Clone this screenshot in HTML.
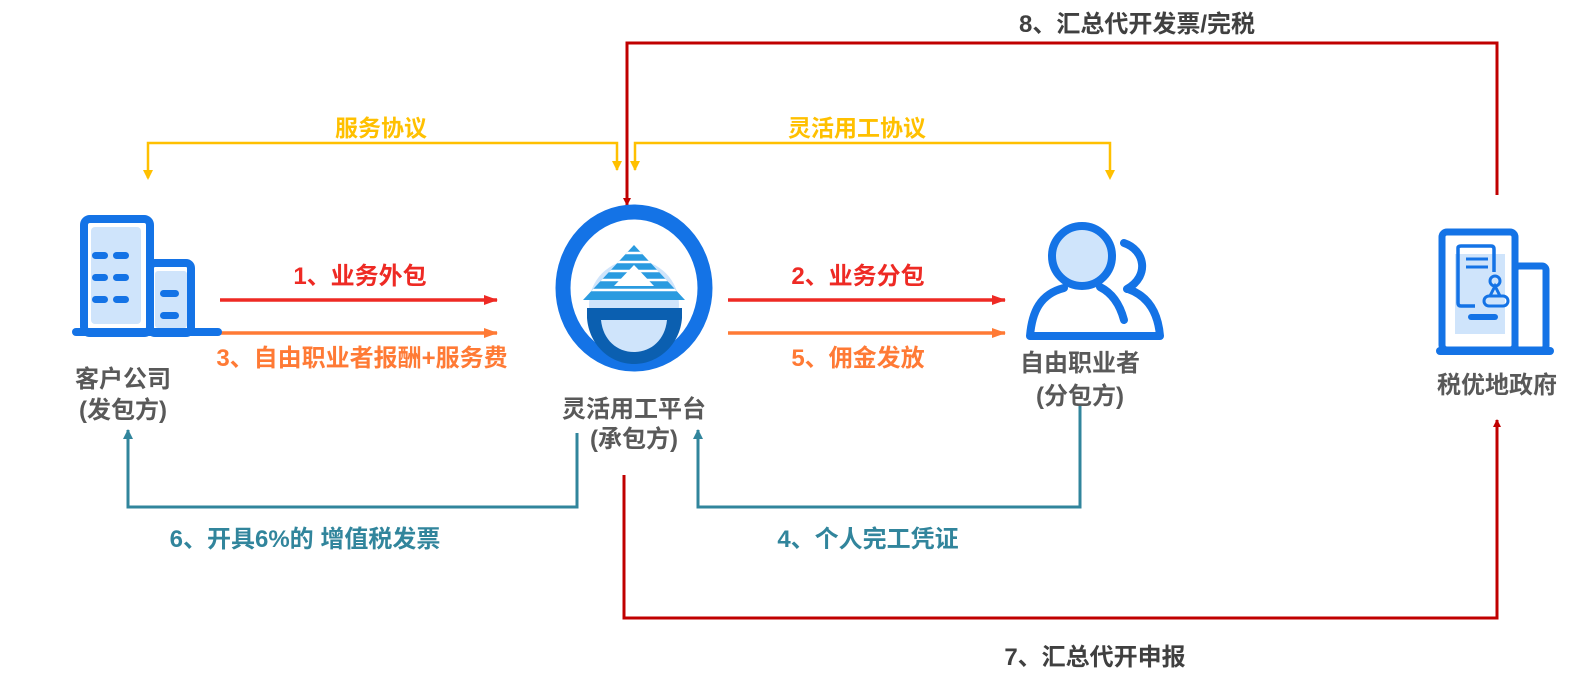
<!DOCTYPE html>
<html><head><meta charset="utf-8"><style>
html,body{margin:0;padding:0;background:#fff;}
svg{display:block;}
text{font-family:"Liberation Sans","Noto Sans CJK SC",sans-serif;font-weight:bold;text-anchor:middle;}
</style></head><body>
<svg width="1589" height="686" viewBox="0 0 1589 686" xmlns="http://www.w3.org/2000/svg">
<defs>
<marker id="ar" markerWidth="8" markerHeight="8" refX="7" refY="4" orient="auto" markerUnits="userSpaceOnUse"><path d="M0,0 L8,4 L0,8z" fill="#c00000"/></marker>
<marker id="ay" markerWidth="10" markerHeight="10" refX="9" refY="5" orient="auto" markerUnits="userSpaceOnUse"><path d="M0,0 L10,5 L0,10z" fill="#ffc000"/></marker>
<marker id="at" markerWidth="10" markerHeight="10" refX="9" refY="5" orient="auto" markerUnits="userSpaceOnUse"><path d="M0,0 L10,5 L0,10z" fill="#31859c"/></marker>
<marker id="a1" markerWidth="14" markerHeight="10" refX="13" refY="5" orient="auto" markerUnits="userSpaceOnUse"><path d="M0,0 L14,5 L0,10z" fill="#ee2a24"/></marker>
<marker id="a2" markerWidth="14" markerHeight="10" refX="13" refY="5" orient="auto" markerUnits="userSpaceOnUse"><path d="M0,0 L14,5 L0,10z" fill="#ff7a35"/></marker>
<clipPath id="tri"><path d="M634,245 L685,300 L583,300z"/></clipPath>
</defs>

<!-- 8 -->
<polyline points="1497,195 1497,43 627,43 627,205" fill="none" stroke="#c00000" stroke-width="3" marker-end="url(#ar)"/>
<text x="1137" y="32" font-size="24" fill="#404040">8、汇总代开发票/完税</text>

<!-- yellow -->
<polyline points="148,178 148,143 617,143 617,170" fill="none" stroke="#ffc000" stroke-width="2.5" marker-end="url(#ay)"/>
<path d="M143,170 L148,180 L153,170z" fill="#ffc000"/>
<text x="381" y="136" font-size="23" fill="#ffc000">服务协议</text>
<polyline points="1110,170 1110,143 635,143 635,170" fill="none" stroke="#ffc000" stroke-width="2.5" marker-end="url(#ay)"/>
<path d="M1105,170 L1110,180 L1115,170z" fill="#ffc000"/>
<text x="857" y="136" font-size="23" fill="#ffc000">灵活用工协议</text>

<!-- horizontal arrows -->
<line x1="220" y1="300" x2="497" y2="300" stroke="#ee2a24" stroke-width="3.5" marker-end="url(#a1)"/>
<line x1="220" y1="333" x2="497" y2="333" stroke="#ff7a35" stroke-width="3.5" marker-end="url(#a2)"/>
<text x="360" y="284" font-size="24" fill="#ee2a24">1、业务外包</text>
<text x="362" y="366" font-size="24" fill="#ff7a35">3、自由职业者报酬+服务费</text>
<line x1="728" y1="300" x2="1005" y2="300" stroke="#ee2a24" stroke-width="3.5" marker-end="url(#a1)"/>
<line x1="728" y1="333" x2="1005" y2="333" stroke="#ff7a35" stroke-width="3.5" marker-end="url(#a2)"/>
<text x="858" y="284" font-size="24" fill="#ee2a24">2、业务分包</text>
<text x="858" y="366" font-size="24" fill="#ff7a35">5、佣金发放</text>

<!-- teal -->
<polyline points="577,433 577,507 128,507 128,430" fill="none" stroke="#31859c" stroke-width="3" marker-end="url(#at)"/>
<text x="305" y="547" font-size="24" fill="#31859c">6、开具6%的 增值税发票</text>
<polyline points="1080,405 1080,507 698,507 698,430" fill="none" stroke="#31859c" stroke-width="3" marker-end="url(#at)"/>
<text x="868" y="547" font-size="24" fill="#31859c">4、个人完工凭证</text>

<!-- 7 -->
<polyline points="624,475 624,618 1497,618 1497,420" fill="none" stroke="#c00000" stroke-width="3" marker-end="url(#ar)"/>
<text x="1095" y="665" font-size="24" fill="#404040">7、汇总代开申报</text>

<!-- building icon -->
<g>
<rect x="84" y="219" width="66" height="114" rx="6" fill="#fff" stroke="#1473e6" stroke-width="8"/>
<rect x="91" y="227" width="50" height="97" rx="4" fill="#cfe4fb"/>
<rect x="150" y="263" width="41" height="70" rx="5" fill="#fff" stroke="#1473e6" stroke-width="8"/>
<rect x="155" y="271" width="32" height="57" rx="3" fill="#cfe4fb"/>
<rect x="72" y="328" width="150" height="8" rx="4" fill="#1473e6"/>
<g fill="#1473e6">
<rect x="92" y="252" width="16" height="7" rx="3.5"/><rect x="113" y="252" width="16" height="7" rx="3.5"/>
<rect x="92" y="274" width="16" height="7" rx="3.5"/><rect x="113" y="274" width="16" height="7" rx="3.5"/>
<rect x="92" y="296" width="16" height="7" rx="3.5"/><rect x="113" y="296" width="16" height="7" rx="3.5"/>
<rect x="160" y="290" width="19" height="7" rx="3.5"/><rect x="160" y="312" width="19" height="7" rx="3.5"/>
</g>
</g>
<text x="123" y="387" font-size="24" fill="#595959">客户公司</text>
<text x="123" y="418" font-size="24" fill="#595959">(发包方)</text>

<!-- logo -->
<g>
<ellipse cx="634" cy="288" rx="71" ry="76" fill="#fff" stroke="#1473e6" stroke-width="15"/>
<circle cx="634" cy="305" r="45" fill="#cfe4fb"/>
<path d="M634,245 L685,300 L583,300z" fill="#2a9be0"/>
<path d="M634,265 L654,286 L614,286z" fill="#fff"/>
<g stroke="#fff" stroke-width="2.5" clip-path="url(#tri)"><line x1="580" y1="253" x2="690" y2="253"/><line x1="580" y1="262" x2="690" y2="262"/><line x1="580" y1="271" x2="690" y2="271"/><line x1="580" y1="280" x2="690" y2="280"/><line x1="580" y1="290" x2="690" y2="290"/></g>
<path d="M587,308 L682,308 L682,318 C680,345 658,364 634,364 C610,364 589,345 587,318z" fill="#0b5fb0"/>
<path d="M601,320 L667,320 C665,340 651,352 634,352 C617,352 603,340 601,320z" fill="#cfe4fb"/>
</g>
<text x="634" y="417" font-size="24" fill="#595959">灵活用工平台</text>
<text x="634" y="447" font-size="24" fill="#595959">(承包方)</text>

<!-- person icon -->
<g fill="none" stroke="#1473e6" stroke-width="8" stroke-linecap="round" stroke-linejoin="round">
<circle cx="1082" cy="256" r="30" fill="#cfe4fb"/>
<path d="M1064,288 C1040,294 1032,312 1030,336 L1160,336 C1158,312 1148,296 1128,289"/>
<path d="M1100,287 C1112,293 1120,305 1124,320"/>
<path d="M1124,243 C1145,250 1150,276 1127,289"/>
</g>
<text x="1080" y="371" font-size="24" fill="#595959">自由职业者</text>
<text x="1080" y="404" font-size="24" fill="#595959">(分包方)</text>

<!-- gov icon -->
<g>
<rect x="1442" y="232" width="73" height="118" rx="5" fill="#fff" stroke="#1473e6" stroke-width="7"/>
<rect x="1515" y="266" width="31" height="84" rx="4" fill="#fff" stroke="#1473e6" stroke-width="7"/>
<rect x="1455" y="254" width="50" height="80" fill="#cfe4fb"/>
<path d="M1475,306 L1461,306 Q1458,306 1458,303 L1458,248 Q1458,246 1461,246 L1491,246 Q1494,246 1494,249 L1494,272" fill="none" stroke="#1473e6" stroke-width="3.5"/>
<line x1="1466" y1="259" x2="1488" y2="259" stroke="#1473e6" stroke-width="3"/>
<line x1="1466" y1="267" x2="1488" y2="267" stroke="#1473e6" stroke-width="3"/>
<circle cx="1495" cy="281" r="5" fill="none" stroke="#1473e6" stroke-width="3"/>
<path d="M1495,286 L1490,296 L1500,296z" fill="none" stroke="#1473e6" stroke-width="3"/>
<rect x="1484" y="296" width="24" height="10" rx="5" fill="none" stroke="#1473e6" stroke-width="3"/>
<rect x="1468" y="314" width="30" height="6" rx="3" fill="#1473e6"/>
<rect x="1436" y="347" width="118" height="8" rx="4" fill="#1473e6"/>
</g>
<text x="1497" y="393" font-size="24" fill="#595959">税优地政府</text>
</svg>
</body></html>
